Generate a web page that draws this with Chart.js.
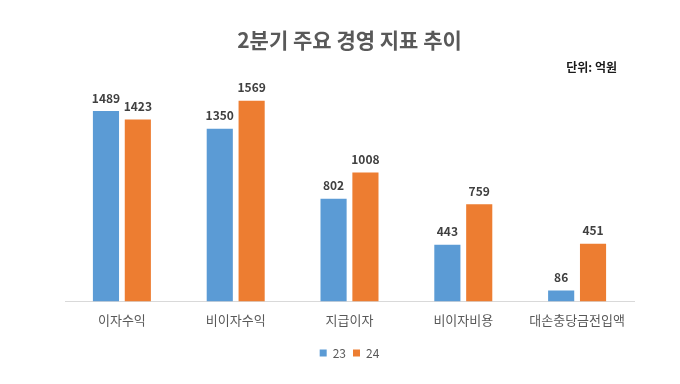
<!DOCTYPE html>
<html>
<head>
<meta charset="utf-8">
<script src="https://cdn.jsdelivr.net/npm/chart.js@4.4.1/dist/chart.umd.min.js"></script>
<style>
    html, body { margin: 0; padding: 0; background: #fff; }
    #wrap { width: 680px; height: 384px; }
</style>
</head>
<body>
<div id="wrap"><canvas id="kpiChart" width="680" height="384"></canvas></div>
<script>
// Data
const categories = ['이자수익', '비이자수익', '지급이자', '비이자비용', '대손충당금전입액'];
const series23 = [1489, 1350, 802, 443, 86];
const series24 = [1423, 1569, 1008, 759, 451];
const seriesNames = ['23', '24'];

const FONT = '"Noto Sans CJK KR", "Noto Sans", sans-serif';

// Value labels above each bar
const barLabels = {
    id: 'barLabels',
    afterDatasetsDraw(chart) {
        const ctx = chart.ctx;
        ctx.save();
        ctx.font = 'bold 12px ' + FONT;
        ctx.fillStyle = '#404040';
        ctx.textAlign = 'center';
        ctx.textBaseline = 'bottom';
        chart.data.datasets.forEach((ds, i) => {
            chart.getDatasetMeta(i).data.forEach((bar, j) => {
                ctx.fillText(ds.data[j], bar.x, bar.y - 7);
            });
        });
        ctx.restore();
    }
};

// Unit note at top right
const unitNote = {
    id: 'unitNote',
    afterDraw(chart) {
        const ctx = chart.ctx;
        ctx.save();
        ctx.font = 'bold 12px ' + FONT;
        ctx.fillStyle = '#1a1a1a';
        ctx.textAlign = 'right';
        ctx.textBaseline = 'middle';
        ctx.fillText('단위: 억원', 617, 67);
        ctx.restore();
    }
};

new Chart(document.getElementById('kpiChart'), {
    type: 'bar',
    data: {
        labels: categories,
        datasets: [{
            label: seriesNames[0],
            data: series23,
            backgroundColor: '#5B9BD5'
        }, {
            label: seriesNames[1],
            data: series24,
            backgroundColor: '#ED7D31'
        }]
    },
    options: {
        responsive: false,
        animation: false,
        devicePixelRatio: 1,
        categoryPercentage: 0.56,
        barPercentage: 0.82,
        layout: { padding: { left: 65, right: 46, top: 0, bottom: 15 } },
        scales: {
            x: {
                grid: { display: false },
                border: { color: '#d9d9d9' },
                ticks: { color: '#595959', font: { family: FONT, size: 13 }, padding: 3 },
                afterFit(scale) { scale.height += 9; }
            },
            y: {
                display: false,
                min: 0,
                max: 1800
            }
        },
        plugins: {
            title: {
                display: true,
                text: '2분기 주요 경영 지표 추이',
                color: '#595959',
                font: { family: FONT, size: 21, weight: 'bold' },
                padding: { top: 27, bottom: 19 }
            },
            legend: {
                position: 'bottom',
                labels: {
                    boxWidth: 7,
                    boxHeight: 7,
                    color: '#595959',
                    font: { family: FONT, size: 12 },
                    padding: 7
                }
            },
            tooltip: { enabled: false }
        }
    },
    plugins: [barLabels, unitNote]
});
</script>
</body>
</html>
